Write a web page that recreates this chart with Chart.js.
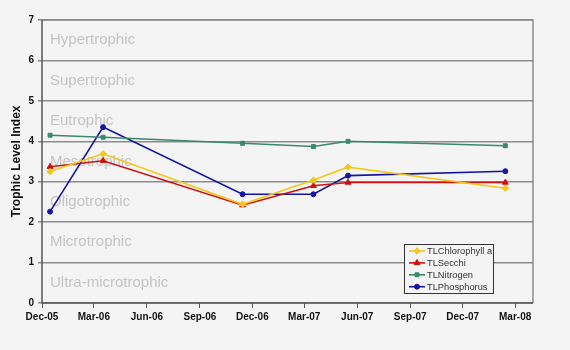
<!DOCTYPE html>
<html>
<head>
<meta charset="utf-8">
<script src="https://cdn.jsdelivr.net/npm/chart.js@4"></script>
<style>
  html, body { margin: 0; padding: 0; background: #f4f4f4; }
  #wrap { width: 570px; height: 350px; }
</style>
</head>
<body>
<div id="wrap"><canvas id="tliChart" width="570" height="350"></canvas></div>
<script>
// sample dates and values
const sampleDates = ['2005-12-15', '2006-03-17', '2006-11-14', '2007-03-17', '2007-05-16', '2008-02-13'];
const chlorophyll = [3.25, 3.69, 2.44, 3.04, 3.36, 2.84];
const secchi      = [3.37, 3.52, 2.42, 2.90, 2.98, 2.98];
const nitrogen    = [4.15, 4.10, 3.95, 3.87, 4.00, 3.89];
const phosphorus  = [2.26, 4.35, 2.69, 2.69, 3.15, 3.26];

const tickDates  = ['2005-12-01', '2006-03-01', '2006-06-01', '2006-09-01', '2006-12-01',
                    '2007-03-01', '2007-06-01', '2007-09-01', '2007-12-01', '2008-03-01'];
const tickLabels = ['Dec-05', 'Mar-06', 'Jun-06', 'Sep-06', 'Dec-06',
                    'Mar-07', 'Jun-07', 'Sep-07', 'Dec-07', 'Mar-08'];
const axisStart = '2005-12-01';
const axisEnd   = '2008-04-01';

const zoneNames  = ['Hypertrophic', 'Supertrophic', 'Eutrophic', 'Mesotrophic',
                    'Oligotrophic', 'Microtrophic', 'Ultra-microtrophic'];
const zoneCenters = [6.5, 5.5, 4.5, 3.5, 2.5, 1.5, 0.5];

const DAY = 86400000;
const dayOf = s => (Date.parse(s) - Date.parse(axisStart)) / DAY;
const pts = vals => vals.map((v, i) => ({ x: dayOf(sampleDates[i]), y: v }));

const FONT = "'Liberation Sans', Arial, sans-serif";

const series = [
  { label: 'TLChlorophyll a', data: chlorophyll, color: '#f2c81c', style: 'rectRot', r: 3.2 },
  { label: 'TLSecchi',        data: secchi,      color: '#cc1111', style: 'triangle', r: 3.4 },
  { label: 'TLNitrogen',      data: nitrogen,    color: '#3a8a6a', style: 'rect', r: 2.8 },
  { label: 'TLPhosphorus',    data: phosphorus,  color: '#1414a0', style: 'circle', r: 2.5 }
];

// zone names, plot border and legend box
const decor = {
  id: 'decor',
  beforeDatasetsDraw(chart) {
    const { ctx, chartArea: a, scales: { y } } = chart;
    ctx.save();
    ctx.fillStyle = '#c4c4c4';
    ctx.font = '15px ' + FONT;
    ctx.textBaseline = 'middle';
    zoneNames.forEach((name, i) => {
      ctx.fillText(name, a.left + 8, y.getPixelForValue(zoneCenters[i]));
    });
    ctx.restore();
  },
  afterDraw(chart) {
    const { ctx, chartArea: a } = chart;
    ctx.save();
    ctx.strokeStyle = '#8c8c8c';
    ctx.lineWidth = 1.5;
    ctx.beginPath();
    ctx.moveTo(a.left, a.top);
    ctx.lineTo(a.right, a.top);
    ctx.lineTo(a.right, a.bottom);
    ctx.stroke();
    ctx.strokeStyle = '#555';
    ctx.beginPath();
    ctx.moveTo(a.left, a.top);
    ctx.lineTo(a.left, a.bottom);
    ctx.lineTo(a.right, a.bottom);
    ctx.stroke();

    // legend
    const bx = a.right - 129, by = a.bottom - 59, bw = 89, bh = 49;
    ctx.fillStyle = '#f4f4f4';
    ctx.fillRect(bx, by, bw, bh);
    ctx.strokeStyle = '#333';
    ctx.lineWidth = 1;
    ctx.strokeRect(bx + 0.5, by + 0.5, bw, bh);
    ctx.font = '9.3px ' + FONT;
    ctx.textBaseline = 'middle';
    series.forEach((s, i) => {
      const ly = by + 7 + i * 11.9;
      ctx.strokeStyle = s.color;
      ctx.lineWidth = 1.6;
      ctx.beginPath();
      ctx.moveTo(bx + 5, ly);
      ctx.lineTo(bx + 21, ly);
      ctx.stroke();
      ctx.fillStyle = s.color;
      ctx.lineWidth = 1;
      Chart.helpers.drawPoint(ctx, { pointStyle: s.style, radius: s.r, borderWidth: 1 }, bx + 13, ly);
      ctx.fillStyle = '#333';
      ctx.fillText(s.label, bx + 23, ly + 0.5);
    });
    ctx.restore();
  }
};

new Chart(document.getElementById('tliChart').getContext('2d'), {
  type: 'line',
  data: {
    datasets: series.map(s => ({
      label: s.label,
      data: pts(s.data),
      borderColor: s.color,
      backgroundColor: s.color,
      borderWidth: 1.6,
      pointStyle: s.style,
      pointRadius: s.r,
      pointBorderWidth: 1,
      tension: 0
    }))
  },
  options: {
    responsive: false,
    animation: false,
    layout: { padding: { top: 20, right: 37, left: 9, bottom: 0 } },
    plugins: { legend: { display: false }, tooltip: { enabled: false } },
    scales: {
      x: {
        type: 'linear',
        min: 0,
        max: dayOf(axisEnd),
        afterBuildTicks: axis => { axis.ticks = tickDates.map(d => ({ value: dayOf(d) })); },
        afterFit: axis => { axis.height = 47; },
        ticks: {
          autoSkip: false,
          maxRotation: 0,
          padding: 3,
          color: '#111',
          font: { family: FONT, size: 10, weight: 'bold' },
          callback: (v, i) => tickLabels[i]
        },
        grid: { drawOnChartArea: false, color: '#555', tickLength: 5 },
        border: { display: false }
      },
      y: {
        min: 0,
        max: 7,
        afterFit: axis => { axis.width = 33; },
        ticks: {
          stepSize: 1,
          padding: 4,
          color: '#111',
          font: { family: FONT, size: 10, weight: 'bold' }
        },
        grid: { color: '#8c8c8c', lineWidth: 1.5, tickLength: 4 },
        border: { display: false },
        title: {
          display: true,
          text: 'Trophic Level Index',
          color: '#111',
          padding: { top: 0, bottom: 0 },
          font: { family: FONT, size: 12, weight: 'bold' }
        }
      }
    }
  },
  plugins: [decor]
});
</script>
</body>
</html>
